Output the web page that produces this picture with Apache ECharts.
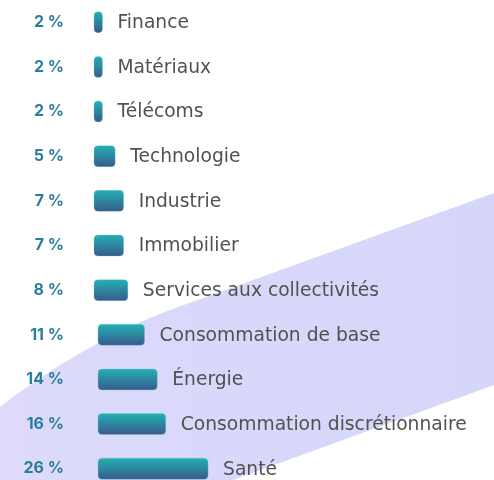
<!DOCTYPE html>
<html>
<head>
<meta charset="utf-8">
<script src="https://cdn.jsdelivr.net/npm/echarts@6/dist/echarts.min.js"></script>
<style>
  html, body { margin: 0; padding: 0; background: #fff; }
  #chart { width: 494px; height: 480px; }
</style>
</head>
<body>
<div id="chart"></div>
<script>
// secteurs, du plus petit au plus grand
const sectors = [
  'Finance', 'Matériaux', 'Télécoms', 'Technologie', 'Industrie', 'Immobilier',
  'Services aux collectivités', 'Consommation de base', 'Énergie',
  'Consommation discrétionnaire', 'Santé'
];
const weights = [2, 2, 2, 5, 7, 7, 8, 11, 14, 16, 26];

const chart = echarts.init(document.getElementById('chart'));

const barFill = () => ({
  type: 'linear', x: 0, y: 0, x2: 0, y2: 1,
  colorStops: [
    { offset: 0, color: '#23b3b4' },
    { offset: 1, color: '#38588b' }
  ]
});

// contour de la bande lavande (décor) : droite puis courbe vers le bord gauche
function bandPoints() {
  const pts = [[494, 193], [170, 310]];
  const c = [[170, 310], [110, 332], [40, 375], [0, 407]];
  for (let k = 1; k <= 12; k++) {
    const t = k / 12, u = 1 - t;
    const a = u * u * u, b = 3 * u * u * t, d = 3 * u * t * t, e = t * t * t;
    pts.push([
      a * c[0][0] + b * c[1][0] + d * c[2][0] + e * c[3][0],
      a * c[0][1] + b * c[1][1] + d * c[2][1] + e * c[3][1]
    ]);
  }
  pts.push([0, 480], [233, 480], [494, 385]);
  return pts;
}

chart.setOption({
  animation: false,
  graphic: [{
    type: 'polygon',
    z: -10,
    silent: true,
    shape: { points: bandPoints() },
    style: {
      fill: {
        type: 'linear', x: 0, y: 0, x2: 1, y2: 0,
        colorStops: [
          { offset: 0, color: '#dddafb' },
          { offset: 1, color: '#d5d6f9' }
        ]
      }
    }
  }],
  grid: {
    left: 94, top: 0, width: 400, height: 491,
    containLabel: false,
    outerBoundsMode: 'none'
  },
  xAxis: { type: 'value', min: 0, max: 94.5, show: false },
  yAxis: {
    type: 'category',
    data: sectors,
    inverse: true,
    axisLine: { show: false },
    axisTick: { show: false },
    splitLine: { show: false },
    axisLabel: {
      margin: 30,
      formatter: (v, i) => weights[i] + ' %',
      color: '#2b7e9b',
      fontFamily: 'Inter',
      fontWeight: 'bold',
      fontSize: 16
    }
  },
  series: [{
    type: 'custom',
    data: weights.map((w, i) => [w, i]),
    encode: { x: 0, y: 1 },
    renderItem: (params, api) => {
      const v = api.value(0);
      const idx = api.value(1);
      const start = api.coord([0, idx]);
      const end = api.coord([v, idx]);
      const shift = v >= 10 ? 4 : 0; // les barres à deux chiffres sont un peu décalées
      const h = 21;
      const x0 = start[0] + shift;
      const w = end[0] - start[0];
      return {
        type: 'group',
        children: [{
          type: 'rect',
          shape: { x: x0, y: start[1] - h / 2, width: w, height: h, r: 4 },
          style: { fill: barFill(), stroke: 'rgba(120,200,210,0.35)', lineWidth: 1 }
        }, {
          type: 'text',
          style: {
            text: sectors[idx],
            x: x0 + w + 15,
            y: start[1] + 1,
            align: 'left',
            verticalAlign: 'middle',
            fill: '#515151',
            font: '18.7px "DejaVu Sans"'
          }
        }]
      };
    }
  }]
});
</script>
</body>
</html>
